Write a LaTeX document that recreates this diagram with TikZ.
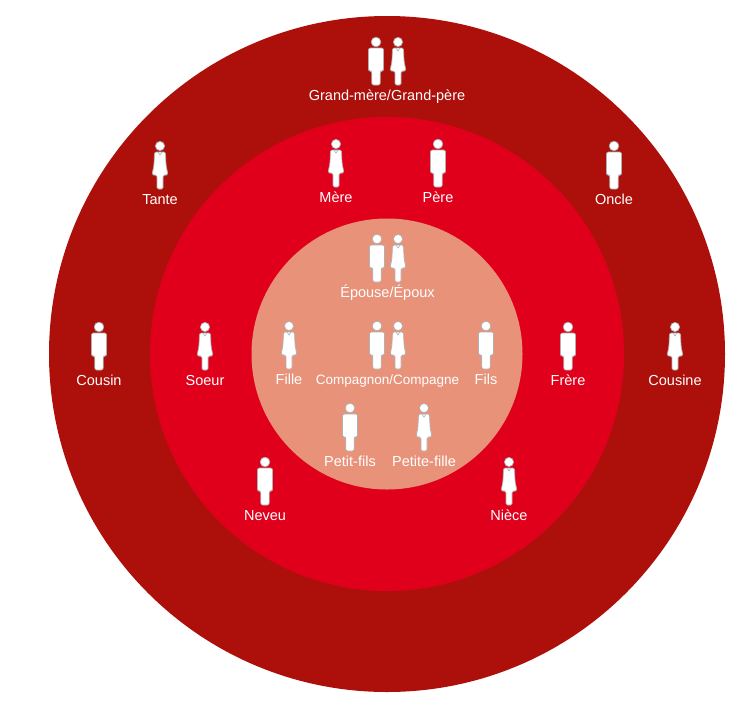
\documentclass[tikz,border=0pt]{standalone}
\usepackage{fontspec}
\setmainfont{Liberation Sans}
\definecolor{cercleext}{HTML}{AD100B}
\definecolor{cerclemil}{HTML}{E1001B}
\definecolor{cercleint}{HTML}{E9927A}
\definecolor{contour}{HTML}{B0B0B0}
\tikzset{
  cercle/.style={circle, inner sep=0pt, draw=none},
  nom/.style={text=white, font=\fontsize{14.5}{17}\selectfont, inner sep=0pt, anchor=base},
  silhouette/.style={fill=white, draw=contour, line width=0.7pt},
  homme/.pic={
    \path[silhouette] (0,0) circle (4.8);
    \path[silhouette, rounded corners=2pt] (-7.5,29) -- (-7.5,6) -- (7.5,6) -- (7.5,29)
      -- (4.2,29) -- (4.2,43) -- (-4.2,43) -- (-4.2,29) -- cycle;
  },
  femme/.pic={
    \path[silhouette] (0,0) circle (4.6);
    \path[silhouette, rounded corners=1.5pt] (-5.5,6) -- (5.5,6) -- (6,19) -- (8,29)
      -- (3,29) -- (3,43) -- (-3,43) -- (-3,29) -- (-8,29) -- (-6,19) -- cycle;
    \draw[contour, line width=0.6pt] (-2,6) -- (0,9) -- (2,6);
  }
}
\begin{document}
\begin{tikzpicture}[x=1pt, y=-1pt]
  \useasboundingbox (0,0) rectangle (755,705);
  \node[cercle, fill=cercleext, minimum size=676pt] (ext) at (387,354) {};
  \node[cercle, fill=cerclemil, minimum size=474pt] (mil) at (387,354) {};
  \node[cercle, fill=cercleint, minimum size=271pt] (int) at (387,354) {};

  \pic (gp) at (376,42) {homme};
  \pic (gm) at (398,42) {femme};
  \node[nom] (grands) at (387,100) {Grand-mère/Grand-père};

  \pic (ta) at (160,146) {femme};
  \node[nom] (tante) at (160,204) {Tante};
  \pic (me) at (336,144) {femme};
  \node[nom] (mere) at (336,202) {Mère};
  \pic (pe) at (438,144) {homme};
  \node[nom] (pere) at (438,202) {Père};
  \pic (on) at (614,146) {homme};
  \node[nom] (oncle) at (614,204) {Oncle};

  \pic (ep) at (377,239) {homme};
  \pic (es) at (398,239) {femme};
  \node[nom] (epoux) at (387.5,297) {Épouse/Époux};

  \pic (cn) at (99,327) {homme};
  \node[nom] (cousin) at (99,385) {Cousin};
  \pic (so) at (205,327) {femme};
  \node[nom] (soeur) at (205,385) {Soeur};
  \pic (fi) at (289,326) {femme};
  \node[nom] (fille) at (289,384) {Fille};
  \pic (cm) at (377,326) {homme};
  \pic (cf) at (398,326) {femme};
  \node[nom, font=\fontsize{13.5}{16}\selectfont] (compagnon) at (387.5,384) {Compagnon/Compagne};
  \pic (fs) at (486,326) {homme};
  \node[nom] (fils) at (486,384) {Fils};
  \pic (fr) at (568,327) {homme};
  \node[nom] (frere) at (568,385) {Frère};
  \pic (ce) at (675,327) {femme};
  \node[nom] (cousine) at (675,385) {Cousine};

  \pic (pf) at (350,408) {homme};
  \node[nom] (petitfils) at (350,466) {Petit-fils};
  \pic (pt) at (424,408) {femme};
  \node[nom] (petitefille) at (424,466) {Petite-fille};

  \pic (ne) at (265,462) {homme};
  \node[nom] (neveu) at (265,520) {Neveu};
  \pic (ni) at (509,462) {femme};
  \node[nom] (niece) at (509,520) {Nièce};
\end{tikzpicture}
\end{document}
